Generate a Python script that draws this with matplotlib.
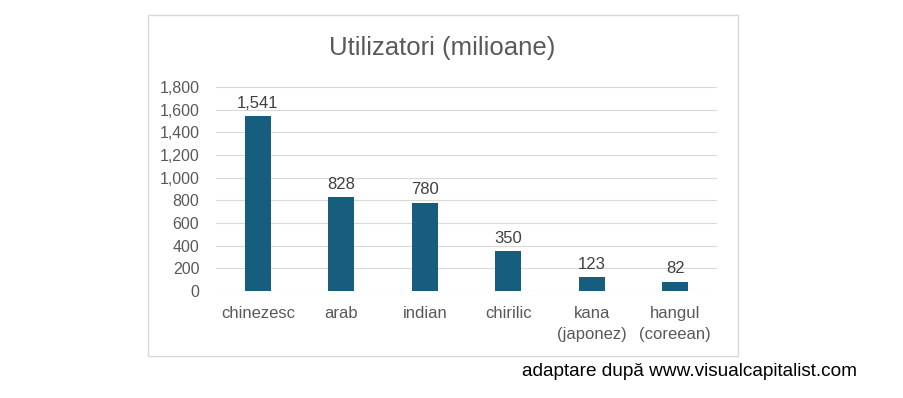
import matplotlib
matplotlib.use("Agg")
import matplotlib.pyplot as plt
from matplotlib.patches import Rectangle
from matplotlib.ticker import FuncFormatter

categories = ["chinezesc", "arab", "indian", "chirilic", "kana\n(japonez)", "hangul\n(coreean)"]
values = [1541, 828, 780, 350, 123, 82]
value_labels = ["1,541", "828", "780", "350", "123", "82"]
yticks = [0, 200, 400, 600, 800, 1000, 1200, 1400, 1600, 1800]

W, H = 904, 398
fig = plt.figure(figsize=(W/100, H/100), dpi=100)
plt.rcParams['font.family'] = ['Liberation Sans', 'DejaVu Sans']

# chart frame
fig.patches.append(Rectangle((148/W, 1-356/H), (738-148)/W, (356-15)/H,
                             transform=fig.transFigure, fill=False,
                             edgecolor="#D9D9D9", linewidth=1))

ax = fig.add_axes([216/W, 1-291/H, (717-216)/W, (291-87)/H])
x = list(range(len(categories)))
ax.bar(x, values, width=0.31, color="#175E7E", zorder=3)
ax.set_xlim(-0.5, len(categories)-0.5)
ax.set_ylim(0, 1800)
ax.set_yticks(yticks)
ax.yaxis.set_major_formatter(FuncFormatter(lambda v, p: f"{int(v):,}"))
ax.grid(axis="y", color="#D9D9D9", linewidth=0.8, zorder=0)
for s in ax.spines.values():
    s.set_visible(False)
ax.tick_params(axis="both", length=0, labelcolor="#595959")
ax.tick_params(axis="y", pad=12, labelsize=11.5)
ax.tick_params(axis="x", pad=11, labelsize=12)
ax.set_xticks(x)
ax.set_xticklabels(categories, linespacing=1.45)

for xi, v, lab in zip(x, values, value_labels):
    ax.annotate(lab, (xi, v), xytext=(0, 4), textcoords="offset points",
                ha="center", va="bottom", fontsize=12, color="#404040")

fig.text(442/W, 1-48/H, "Utilizatori (milioane)", ha="center", va="center",
         fontsize=18.5, color="#595959")
fig.text(522/W, 1-371/H, "adaptare după www.visualcapitalist.com", ha="left",
         va="center", fontsize=13.7, color="#000000")

fig.savefig("out.png", dpi=100)
